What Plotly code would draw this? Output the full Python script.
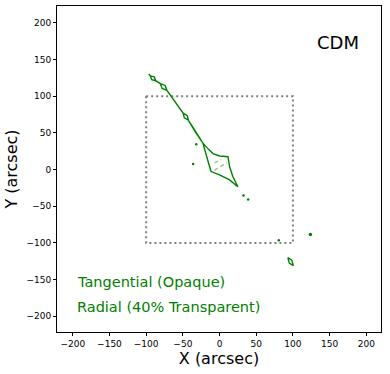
import plotly.graph_objects as go

# Tangential critical curve (closed loop): arm with small diamonds + big diamond
tan_x = [-96.6, -94.4, -89.0, -87.0, -80.8, -74.1, -71.7, -49.6, -44.0, -42.4, -33.0,
         -22.7, -15.0, -9.0, 0.0, 11.5, 13.6, 18.1, 25.0, 13.6, 0.0, -11.5, -15.0, -18.5, -22.7,
         -33.4, -42.4, -48.0, -49.6, -71.7, -78.3, -80.8, -87.0, -92.4, -94.4, -96.6]
tan_y = [130.2, 127.8, 126.3, 121.1, 117.2, 114.7, 108.0, 76.8, 73.5, 67.2, 52.5,
         36.0, 27.5, 21.8, 18.5, 17.5, 4.1, -9.5, -23.5, -14.1, -7.2, -2.7, 9.0, 22.0, 36.0,
         52.2, 67.2, 70.5, 76.8, 108.0, 110.5, 117.2, 121.1, 122.6, 127.8, 130.2]

# small tangential loop near (97,-126)
small_x = [93.0, 98.5, 100.5, 95.0, 93.0]
small_y = [-120.0, -123.5, -131.0, -127.5, -120.0]

# tiny isolated curves (dots)
dot_x = [-31.7, -36.0, 32.6, 39.0, 80.7]
dot_y = [34.6, 7.4, -35.5, -41.0, -96.3]
bigdot_x = [123.8]
bigdot_y = [-88.7]

# radial curves (faint)
rad_a_x = [-7.0, 2.3]
rad_a_y = [9.0, 14.0]
rad_b_x = [-7.0, 10.0]
rad_b_y = [-1.0, 9.5]

# field-of-view box
box_x = [-100, 100, 100, -100, -100]
box_y = [100, 100, -100, -100, 100]

tick_vals = [-200, -150, -100, -50, 0, 50, 100, 150, 200]
tick_text = ["\u2212200", "\u2212150", "\u2212100", "\u221250", "0", "50", "100", "150", "200"]

GREEN = "#008000"
fig = go.Figure()
fig.add_trace(go.Scatter(x=box_x, y=box_y, mode="lines",
                         line=dict(color="#808080", width=2, dash="2px,3px")))
fig.add_trace(go.Scatter(x=tan_x, y=tan_y, mode="lines",
                         line=dict(color=GREEN, width=1.4)))
fig.add_trace(go.Scatter(x=small_x, y=small_y, mode="lines",
                         line=dict(color=GREEN, width=1.4)))
fig.add_trace(go.Scatter(x=dot_x, y=dot_y, mode="markers",
                         marker=dict(color=GREEN, size=2.5)))
fig.add_trace(go.Scatter(x=bigdot_x, y=bigdot_y, mode="markers",
                         marker=dict(color=GREEN, size=3.5)))
for rx, ry in [(rad_a_x, rad_a_y), (rad_b_x, rad_b_y)]:
    fig.add_trace(go.Scatter(x=rx, y=ry, mode="lines", opacity=0.4,
                             line=dict(color=GREEN, width=1.5, dash="4px,3px")))

fig.add_annotation(x=162, y=173, text="CDM", showarrow=False,
                   font=dict(family="DejaVu Sans", size=18, color="black"))
fig.add_annotation(x=-197, y=-152.8, text="Tangential (Opaque)", showarrow=False,
                   xanchor="left", font=dict(family="DejaVu Sans", size=14.5, color=GREEN))
fig.add_annotation(x=-197, y=-187.7, text="Radial (40% Transparent)", showarrow=False,
                   xanchor="left", font=dict(family="DejaVu Sans", size=14.5, color=GREEN))

axis_common = dict(tickvals=tick_vals, ticktext=tick_text, showgrid=False, zeroline=False,
                   showline=True, linecolor="black", linewidth=1, mirror=True,
                   ticks="outside", ticklen=3, tickwidth=1, tickcolor="black",
                   tickfont=dict(family="DejaVu Sans", size=9, color="black"))
fig.update_xaxes(range=[-221.5, 220], title=dict(text="X (arcsec)", standoff=4,
                 font=dict(family="DejaVu Sans", size=16, color="black")), **axis_common)
fig.update_yaxes(range=[-221.5, 223], title=dict(text="Y (arcsec)", standoff=4,
                 font=dict(family="DejaVu Sans", size=16, color="black")), **axis_common)
fig.update_layout(width=390, height=374, showlegend=False,
                  margin=dict(l=57, r=9, t=6, b=42),
                  plot_bgcolor="white", paper_bgcolor="white")
fig.write_html("out.html", config={"displayModeBar": False},
               post_script="document.body.style.margin='0px';document.body.style.padding='0px';")
